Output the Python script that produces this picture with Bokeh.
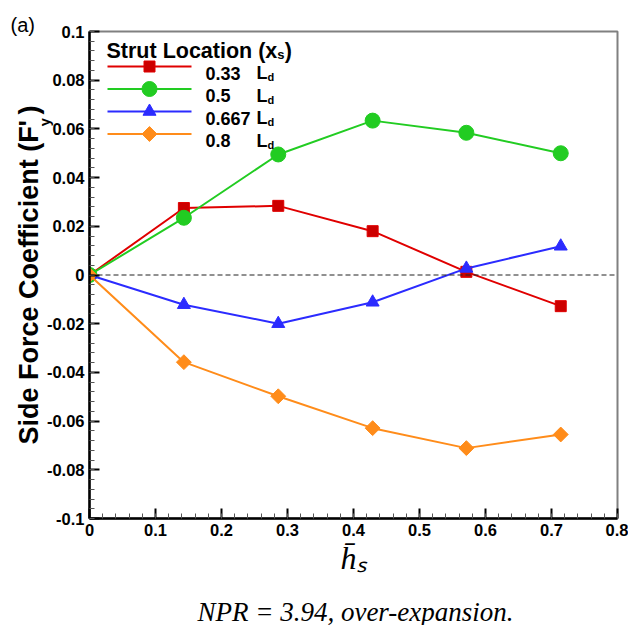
import math

from bokeh.plotting import figure
from bokeh.models import Range1d, FixedTicker, CustomJSTickFormatter, Span, Label
from bokeh.embed import file_html
from bokeh.resources import INLINE

# Non-dimensional strut height h_s
H_S = [0.0, 0.143, 0.286, 0.429, 0.571, 0.714]

# Side force coefficient F'_y for each strut location x_s
FY_033 = [0.0, 0.0275, 0.0284, 0.0180, 0.0013, -0.0128]
FY_050 = [0.0, 0.0235, 0.0495, 0.0634, 0.0584, 0.0500]
FY_0667 = [0.0, -0.0122, -0.0200, -0.0112, 0.0027, 0.0118]
FY_080 = [0.0, -0.0358, -0.0498, -0.0629, -0.0711, -0.0655]

LOCATION_LABELS = ["0.33", "0.5", "0.667", "0.8"]

X_TICKS = [0.0, 0.1, 0.2, 0.3, 0.4, 0.5, 0.6, 0.7, 0.8]
Y_TICKS = [-0.1, -0.08, -0.06, -0.04, -0.02, 0.0, 0.02, 0.04, 0.06, 0.08, 0.1]

LEGEND_TITLE = "Strut Location (x"
Y_LABEL = "Side Force Coefficient (F'\u2009)"
X_LABEL = "h\u0304\u209b"
CAPTION = "NPR = 3.94, over-expansion."
PANEL_TAG = "(a)"

# page geometry (pixels)
W, H = 628, 625
LEFT, RIGHT, TOP, BOTTOM = 89, 617, 31, 518

p = figure(
    width=W, height=H,
    x_range=Range1d(0, 0.8), y_range=Range1d(-0.1, 0.1),
    output_backend="svg", toolbar_location=None,
    min_border_left=LEFT, min_border_right=W - RIGHT,
    min_border_top=TOP, min_border_bottom=H - BOTTOM,
    background_fill_color="white", border_fill_color="white",
)
# pixel coordinate system of the page, used for the legend and free text
p.extra_x_ranges["page_x"] = Range1d(LEFT, RIGHT)
p.extra_y_ranges["page_y"] = Range1d(BOTTOM, TOP)

p.grid.visible = False
p.outline_line_color = "#808080"
p.outline_line_width = 2

fmt = CustomJSTickFormatter(code="return String(parseFloat(tick.toFixed(4)));")
p.xaxis.ticker = FixedTicker(ticks=X_TICKS,
                             minor_ticks=[round(i * 0.02, 3) for i in range(41)])
p.yaxis.ticker = FixedTicker(ticks=Y_TICKS,
                             minor_ticks=[round(-0.1 + i * 0.004, 4) for i in range(51)])
for ax in (p.xaxis[0], p.yaxis[0]):
    ax.formatter = fmt
    ax.axis_line_color = "black"
    ax.axis_line_width = 2.5
    ax.major_tick_in = 10
    ax.major_tick_out = 0
    ax.major_tick_line_width = 2
    ax.major_tick_line_color = "black"
    ax.minor_tick_in = 5
    ax.minor_tick_out = 0
    ax.minor_tick_line_width = 1
    ax.minor_tick_line_color = "#555555"
    ax.major_label_text_font = "Liberation Sans"
    ax.major_label_text_font_style = "bold"
    ax.major_label_text_font_size = "16.5px"
    ax.major_label_text_color = "black"
    ax.major_label_standoff = 5

YL_SIZE = 27
p.yaxis.axis_label = Y_LABEL
p.yaxis.axis_label_text_font = "Liberation Sans"
p.yaxis.axis_label_text_font_style = "bold"
p.yaxis.axis_label_text_font_size = f"{YL_SIZE}px"
p.yaxis.axis_label_text_color = "black"
p.yaxis.axis_label_standoff = 0

p.xaxis.axis_label = X_LABEL
p.xaxis.axis_label_text_font = "Liberation Serif"
p.xaxis.axis_label_text_font_style = "italic"
p.xaxis.axis_label_text_font_size = "32px"
p.xaxis.axis_label_text_color = "black"
p.xaxis.axis_label_standoff = 1

p.add_layout(Span(location=0, dimension="width", line_color="#222222",
                  line_width=1, line_dash="5 3"))

SERIES = [
    # values, line colour, fill colour, marker, size, angle
    (FY_033, "#e00000", "#cc0000", "square", 11, 0.0),
    (FY_050, "#22cc22", "#22cc22", "circle", 15, 0.0),
    (FY_0667, "#2b2bff", "#2b2bff", "triangle", 13, 0.0),
    (FY_080, "#ff8c1a", "#ff8c1a", "square", 10.5, math.pi / 4),
]

for ys, lc, fc, marker, size, ang in SERIES:
    p.line(H_S, ys, line_color=lc, line_width=2)
    p.scatter(H_S, ys, marker=marker, size=size, angle=ang,
              fill_color=fc, line_color=lc, line_width=1)


def text(x, y, s, size, font="Liberation Sans", style="bold", angle=0.0,
         align="left", baseline="alphabetic", place=None):
    lab = Label(x=x, y=y, text=s, x_range_name="page_x", y_range_name="page_y",
                text_font=font, text_font_style=style,
                text_font_size=f"{size}px", angle=angle,
                text_align=align, text_baseline=baseline, text_color="black")
    if place is None:
        p.add_layout(lab)
    else:
        p.add_layout(lab, place)


# legend
title_size = 21.5
text(106, 50, LEGEND_TITLE, title_size)
tx = 106 + 7.945 * title_size
text(tx, 54, "s", 13)
text(tx + 7.4, 50, ")", title_size)

row_y = [66, 88.5, 111, 133.5]
for (ys, lc, fc, marker, size, ang), lab, ry in zip(SERIES, LOCATION_LABELS, row_y):
    p.line([107, 191], [ry, ry], x_range_name="page_x", y_range_name="page_y",
           line_color=lc, line_width=2)
    p.scatter([149], [ry], x_range_name="page_x", y_range_name="page_y",
              marker=marker, size=size, angle=ang, fill_color=fc, line_color=lc)
    text(205, ry + 6.5, lab, 18)
    text(256, ry + 6.5, "L", 18)
    text(267, ry + 10.5, "d", 11)

# subscript y of F'_y, sitting under the prime of the rotated axis title
label_len = 12.55 * YL_SIZE
y_start = (TOP + BOTTOM) / 2 + label_len / 2
text(44.5, y_start - 11.78 * YL_SIZE, "y", 14.5, angle=math.pi / 2, place="below")

# caption and panel tag
text(355, 611, CAPTION, 27, font="Liberation Serif", style="italic", align="center", place="below")
text(10, 24, PANEL_TAG, 20, style="normal", place="above")

open("out.html", "w").write(file_html(p, INLINE))
